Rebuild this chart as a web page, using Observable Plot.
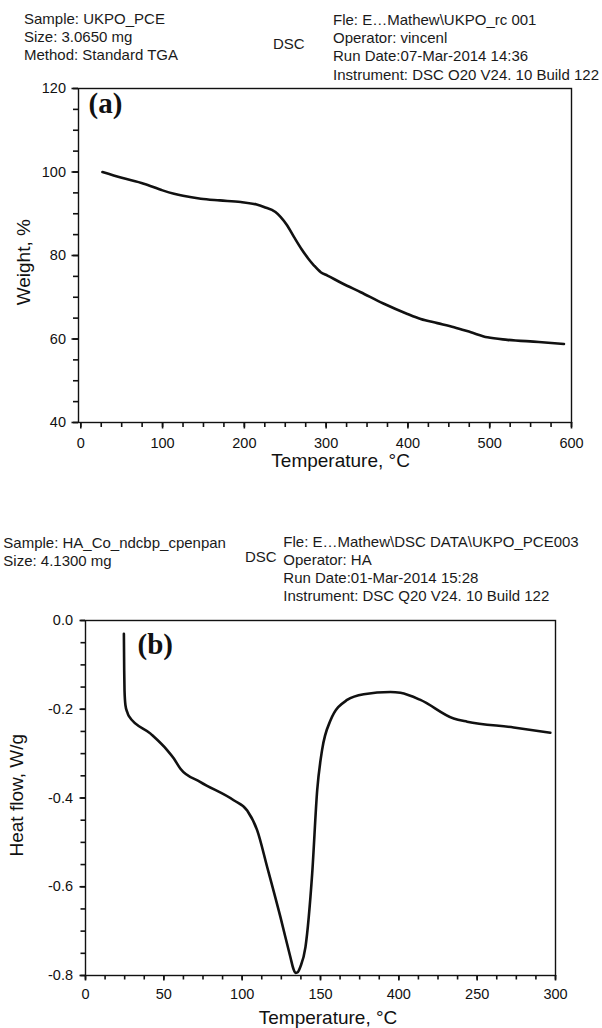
<!DOCTYPE html>
<html>
<head>
<meta charset="utf-8">
<script src="https://cdn.jsdelivr.net/npm/d3@7"></script>
<script src="https://cdn.jsdelivr.net/npm/@observablehq/plot@0.6"></script>
<style>
  html, body { margin: 0; padding: 0; background: #fff; }
  #page { position: relative; width: 602px; height: 1028px; overflow: hidden; background: #fff; }
  .hd { position: absolute; font-family: "Liberation Sans", Arial, sans-serif; font-size: 15px; line-height: 18px; color: #1a1a1a; white-space: pre; }
  .chart { position: absolute; left: 0; }
</style>
</head>
<body>
<div id="page"></div>
<script>
// ---------- Data: (a) TGA ----------
const tgaTemp   = [26.5, 50, 77, 100, 114, 125, 146.7, 170, 195.6, 215, 224, 238, 244.5, 252, 260.8, 270, 278, 285.2, 293.4, 301.6, 320, 342.3, 370, 399.4, 415.6, 436, 456.4, 477, 497.2, 521.6, 560, 590.8];
const tgaWeight = [100.0, 98.6, 97.2, 95.6, 94.8, 94.3, 93.6, 93.2, 92.8, 92.2, 91.6, 90.4, 89.2, 87.3, 84.4, 81.5, 79.3, 77.6, 76.0, 75.2, 73.3, 71.2, 68.5, 66.0, 64.8, 63.8, 62.8, 61.6, 60.4, 59.8, 59.3, 58.8];
const xTicksA = [0, 100, 200, 300, 400, 500, 600];
const xMinorA = [0, 25, 50, 75, 100, 125, 150, 175, 200, 225, 250, 275, 300, 325, 350, 375, 400, 425, 450, 475, 500, 525, 550, 575, 600];
const yTicksA = [40, 60, 80, 100, 120];
const yMinorA = [40, 45, 50, 55, 60, 65, 70, 75, 80, 85, 90, 95, 100, 105, 110, 115, 120];

// ---------- Data: (b) DSC ----------
const dscTemp = [24.5, 24.7, 24.9, 25.5, 26.6, 27.6, 41.5, 52.1, 56.4, 60.6, 73.4, 94.6, 103.2, 109.6, 116, 124.4, 130.8, 132.8, 134, 135.3, 137.2, 140.4, 144.7, 147.9, 151, 156.4, 167, 177.6, 194.6, 201, 213.8, 235, 243.6, 273.3, 296.7];
const dscHeat = [-0.030, -0.112, -0.157, -0.191, -0.206, -0.215, -0.255, -0.292, -0.311, -0.334, -0.364, -0.405, -0.428, -0.473, -0.556, -0.668, -0.759, -0.786, -0.794, -0.793, -0.780, -0.736, -0.570, -0.382, -0.292, -0.225, -0.179, -0.166, -0.161, -0.163, -0.179, -0.221, -0.228, -0.241, -0.253];
const xTicksB = [0, 50, 100, 150, 200, 250, 300];
const xTickLabelsB = ["0", "50", "100", "150", "400", "250", "300"];
const xMinorB = [0, 12.5, 25, 37.5, 50, 62.5, 75, 87.5, 100, 112.5, 125, 137.5, 150, 162.5, 175, 187.5, 200, 212.5, 225, 237.5, 250, 262.5, 275, 287.5, 300];
const yTicksB = [-0.8, -0.6, -0.4, -0.2, 0];
const yTickLabelsB = ["-0.8", "-0.6", "-0.4", "-0.2", "0.0"];
const yMinorB = [-0.8, -0.75, -0.7, -0.65, -0.6, -0.55, -0.5, -0.45, -0.4, -0.35, -0.3, -0.25, -0.2, -0.15, -0.1, -0.05, 0];

// ---------- Header texts ----------
const headA_left  = ["Sample: UKPO_PCE", "Size: 3.0650 mg", "Method: Standard TGA"];
const headA_mid   = ["DSC"];
const headA_right = ["Fle: E…Mathew\\UKPO_rc 001", "Operator: vincenl", "Run Date:07-Mar-2014 14:36", "Instrument: DSC Q20 V24. 10 Build 122"];
const headB_left  = ["Sample: HA_Co_ndcbp_cpenpan", "Size: 4.1300 mg"];
const headB_mid   = ["DSC"];
const headB_right = ["Fle: E…Mathew\\DSC DATA\\UKPO_PCE003", "Operator: HA", "Run Date:01-Mar-2014 15:28", "Instrument: DSC Q20 V24. 10 Build 122"];

const page = document.getElementById("page");
function addHeader(lines, left, top, lh) {
  const d = document.createElement("div");
  d.className = "hd";
  d.style.left = left + "px";
  d.style.top = top + "px";
  if (lh) d.style.lineHeight = lh + "px";
  d.textContent = lines.join("\n");
  page.appendChild(d);
}
addHeader(headA_left, 24, 9.8, 18);
addHeader(headA_mid, 273, 35.1, 18);
addHeader(headA_right, 333, 10.8, 18.3);
addHeader(headB_left, 3.3, 534.1, 17.7);
addHeader(headB_mid, 245, 547.5, 18);
addHeader(headB_right, 283.3, 533.1, 18);

const ink = "#111";
const baseStyle = {fontFamily: "'Liberation Sans', Arial, sans-serif", fontSize: "14.5px", color: "#111", background: "white", overflow: "visible"};
const titleFont = "'Liberation Sans', Arial, sans-serif";
const serif = "'Liberation Serif', 'Times New Roman', serif";

// outward tick helpers (Plot tick marks, positioned by the scales)
function ticksBottom(vals, len, frameH) {
  return Plot.tickX(vals, {x: d => d, insetTop: frameH - len, dy: len, stroke: ink, strokeWidth: 1.6});
}
function ticksLeft(vals, len, frameW) {
  return Plot.tickY(vals, {y: d => d, insetRight: frameW - len, dx: -len, stroke: ink, strokeWidth: 1.6});
}

// ---------- Chart (a) ----------
const A = {w: 602, h: 400, mt: 8, mb: 58, ml: 78, mr: 31};
const fhA = A.h - A.mt - A.mb, fwA = A.w - A.ml - A.mr;
const tgaData = tgaTemp.map((t, i) => ({t, w: tgaWeight[i]}));
const chartA = Plot.plot({
  width: A.w, height: A.h,
  marginTop: A.mt, marginBottom: A.mb, marginLeft: A.ml, marginRight: A.mr,
  x: {domain: [-2.8, 600]},
  y: {domain: [40, 120]},
  style: baseStyle,
  marks: [
    Plot.axisX(xTicksA, {stroke: ink, strokeWidth: 1.6, tickSize: 6.5, tickPadding: 9, label: null}),
    Plot.axisY(yTicksA, {stroke: ink, strokeWidth: 1.6, tickSize: 6.5, tickPadding: 6, label: null}),
    ticksBottom(xMinorA, 5, fhA),
    ticksLeft(yMinorA, 5, fwA),
    Plot.frame({stroke: ink, strokeWidth: 1.4}),
    Plot.line(tgaData, {x: "t", y: "w", curve: "monotone-x", stroke: ink, strokeWidth: 2.6}),
    Plot.text(["(a)"], {frameAnchor: "top-left", textAnchor: "start", lineAnchor: "top", dx: 10, dy: 3.5, fontSize: 29, fontWeight: "bold", fontFamily: serif, fill: ink}),
    Plot.text(["Weight, %"], {frameAnchor: "left", rotate: -90, textAnchor: "middle", lineAnchor: "middle", dx: -54.2, dy: 6.7, fontSize: 19, fontFamily: titleFont, fill: ink}),
    Plot.text(["Temperature, °C"], {frameAnchor: "bottom", textAnchor: "middle", lineAnchor: "top", dx: 15.6, dy: 31.3, fontSize: 19, fontFamily: titleFont, fill: ink})
  ]
});
chartA.classList.add("chart");
chartA.style.top = "80px";
page.appendChild(chartA);

// ---------- Chart (b) ----------
const B = {w: 602, h: 418, mt: 10, mb: 53, ml: 85, mr: 47};
const fhB = B.h - B.mt - B.mb, fwB = B.w - B.ml - B.mr;
const dscData = dscTemp.map((t, i) => ({t, q: dscHeat[i]}));
const xLabB = new Map(xTicksB.map((v, i) => [v, xTickLabelsB[i]]));
const yLabB = new Map(yTicksB.map((v, i) => [v, yTickLabelsB[i]]));
const chartB = Plot.plot({
  width: B.w, height: B.h,
  marginTop: B.mt, marginBottom: B.mb, marginLeft: B.ml, marginRight: B.mr,
  x: {domain: [0, 300]},
  y: {domain: [-0.8, 0]},
  style: baseStyle,
  marks: [
    Plot.axisX(xTicksB, {stroke: ink, strokeWidth: 1.6, tickSize: 5.5, tickPadding: 7.5, tickFormat: d => xLabB.get(d), label: null}),
    Plot.axisY(yTicksB, {stroke: ink, strokeWidth: 1.6, tickSize: 5.5, tickPadding: 7, tickFormat: d => yLabB.get(d), label: null}),
    ticksBottom(xMinorB, 4.5, fhB),
    ticksLeft(yMinorB, 4.5, fwB),
    Plot.frame({stroke: ink, strokeWidth: 1.4}),
    Plot.line(dscData, {x: "t", y: "q", curve: "monotone-x", stroke: ink, strokeWidth: 2.6}),
    Plot.text(["(b)"], {frameAnchor: "top-left", textAnchor: "start", lineAnchor: "top", dx: 52, dy: 12.5, fontSize: 29, fontWeight: "bold", fontFamily: serif, fill: ink}),
    Plot.text(["Heat flow, W/g"], {frameAnchor: "left", rotate: -90, textAnchor: "middle", lineAnchor: "middle", dx: -69, dy: -2.75, fontSize: 19, fontFamily: titleFont, fill: ink}),
    Plot.text(["Temperature, °C"], {frameAnchor: "bottom", textAnchor: "middle", lineAnchor: "top", dx: 7.5, dy: 35, fontSize: 19, fontFamily: titleFont, fill: ink})
  ]
});
chartB.classList.add("chart");
chartB.style.top = "610px";
page.appendChild(chartB);
</script>
</body>
</html>
